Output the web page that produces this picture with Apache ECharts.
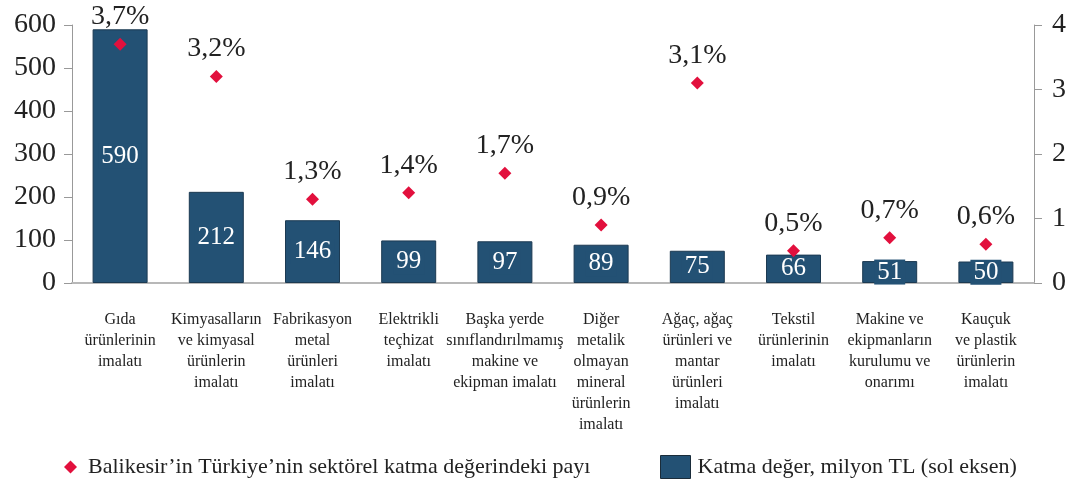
<!DOCTYPE html>
<html>
<head>
<meta charset="utf-8">
<script src="https://cdn.jsdelivr.net/npm/echarts@6/dist/echarts.min.js"></script>
<style>
  html, body { margin: 0; padding: 0; background: #fff; }
  #grafik { width: 1073px; height: 488px; }
</style>
</head>
<body>
<div id="grafik"></div>
<script>
  // Sektörler (x ekseni)
  const sektorler = [
    'Gıda\nürünlerinin\nimalatı',
    'Kimyasalların\nve kimyasal\nürünlerin\nimalatı',
    'Fabrikasyon\nmetal\nürünleri\nimalatı',
    'Elektrikli\nteçhizat\nimalatı',
    'Başka yerde\nsınıflandırılmamış\nmakine ve\nekipman imalatı',
    'Diğer\nmetalik\nolmayan\nmineral\nürünlerin\nimalatı',
    'Ağaç, ağaç\nürünleri ve\nmantar\nürünleri\nimalatı',
    'Tekstil\nürünlerinin\nimalatı',
    'Makine ve\nekipmanların\nkurulumu ve\nonarımı',
    'Kauçuk\nve plastik\nürünlerin\nimalatı'
  ];

  // Katma değer, milyon TL (sol eksen)
  const katmaDeger = [590, 212, 146, 99, 97, 89, 75, 66, 51, 50];

  // Balıkesir'in Türkiye'nin sektörel katma değerindeki payı (%)
  const pay = [3.7, 3.2, 1.3, 1.4, 1.7, 0.9, 3.1, 0.5, 0.7, 0.6];

  const solEksen = { min: 0, max: 600, interval: 100 };
  const sagEksen = { min: 0, max: 4, interval: 1 };

  const payAdi = 'Balikesir’in Türkiye’nin sektörel katma değerindeki payı';
  const degerAdi = 'Katma değer, milyon TL (sol eksen)';

  const yazi = 'Liberation Serif, Times New Roman, serif';
  const barRengi = '#235174';
  const kirmizi = '#e2103d';

  const grafik = echarts.init(document.getElementById('grafik'));

  grafik.setOption({
    animation: false,
    textStyle: { fontFamily: yazi },
    grid: { left: 72, right: 39, top: 25, bottom: 205 },
    // iki ayrı lejant: simge boyutları farklı
    legend: [
      {
        top: 451,
        left: 59,
        itemWidth: 13,
        itemHeight: 13,
        textStyle: { fontFamily: yazi, fontSize: 22, color: '#222', padding: [0, 0, 0, 6] },
        data: [{ name: payAdi, icon: 'diamond', itemStyle: { color: kirmizi } }]
      },
      {
        top: 450,
        left: 655,
        itemWidth: 30,
        itemHeight: 23,
        textStyle: { fontFamily: yazi, fontSize: 22, color: '#222', padding: [0, 0, 0, 2] },
        data: [{ name: degerAdi, icon: 'rect', itemStyle: { color: barRengi, borderColor: '#1a2c3a', borderWidth: 1 } }]
      }
    ],
    xAxis: {
      type: 'category',
      data: sektorler,
      axisLine: { lineStyle: { color: '#b8b8b8', width: 2 } },
      axisTick: { show: false },
      axisLabel: {
        interval: 0,
        margin: 26,
        fontFamily: yazi,
        fontSize: 16,
        lineHeight: 21,
        color: '#222'
      }
    },
    yAxis: [
      {
        type: 'value',
        min: solEksen.min,
        max: solEksen.max,
        interval: solEksen.interval,
        axisLine: { show: true, lineStyle: { color: '#999' } },
        axisTick: { show: true, length: 8, lineStyle: { color: '#999' } },
        splitLine: { show: false },
        axisLabel: { fontFamily: yazi, fontSize: 28, color: '#222', margin: 16 }
      },
      {
        type: 'value',
        position: 'right',
        min: sagEksen.min,
        max: sagEksen.max,
        interval: sagEksen.interval,
        axisLine: { show: true, lineStyle: { color: '#999' } },
        axisTick: { show: true, length: 8, lineStyle: { color: '#999' } },
        splitLine: { show: false },
        axisLabel: { fontFamily: yazi, fontSize: 28, color: '#222', margin: 18 }
      }
    ],
    series: [
      {
        name: degerAdi,
        type: 'bar',
        yAxisIndex: 0,
        barWidth: 55,
        data: katmaDeger,
        itemStyle: { color: barRengi, borderColor: '#1c3a52', borderWidth: 1 },
        label: {
          show: true,
          position: 'inside',
          fontFamily: yazi,
          fontSize: 25,
          color: '#fff',
          backgroundColor: barRengi,
          padding: [0, 3]
        },
        z: 2
      },
      {
        name: payAdi,
        type: 'scatter',
        yAxisIndex: 1,
        symbol: 'diamond',
        symbolSize: 13,
        data: pay,
        itemStyle: { color: kirmizi, opacity: 1 },
        label: {
          show: true,
          position: 'top',
          distance: 7,
          fontFamily: yazi,
          fontSize: 28,
          color: '#222',
          formatter: p => p.value.toFixed(1).replace('.', ',') + '%'
        },
        z: 3
      }
    ]
  });
</script>
</body>
</html>
